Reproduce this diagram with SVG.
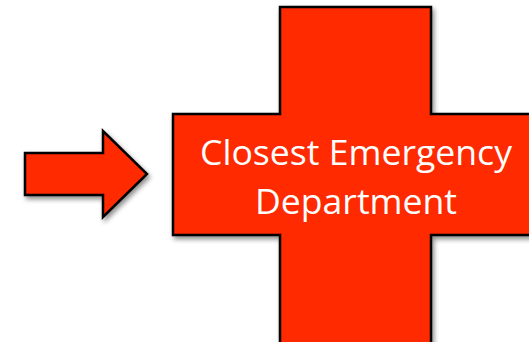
<svg xmlns="http://www.w3.org/2000/svg" width="529" height="342" viewBox="0 0 529 342">
<style>
.shape{fill:#FF2A00;stroke:#000;stroke-width:2.5;stroke-linejoin:miter}
.lbl{font-family:"Open Sans","Liberation Sans",sans-serif;font-size:34px;fill:#fff;text-anchor:middle}
</style>
<defs>
<filter id="sh" x="-10%" y="-10%" width="130%" height="130%">
<feGaussianBlur in="SourceAlpha" stdDeviation="2.5"/>
<feOffset dx="2" dy="3" result="b"/>
<feComponentTransfer><feFuncA type="linear" slope="0.45"/></feComponentTransfer>
<feMerge><feMergeNode/><feMergeNode in="SourceGraphic"/></feMerge>
</filter>
</defs>
<rect width="529" height="342" fill="#fff"/>
<g id="arrow">
<polygon class="shape" filter="url(#sh)" points="25,153 103,153 103,131 147,174 103,217 103,195 25,195"/>
</g>
<g id="cross">
<polygon class="shape" filter="url(#sh)" points="280,7 431,7 431,114 540,114 540,235 431,235 431,350 280,350 280,235 173,235 173,114 280,114"/>
<text class="lbl" x="356" y="165" textLength="312" lengthAdjust="spacingAndGlyphs">Closest Emergency</text>
<text class="lbl" x="356" y="214" textLength="202" lengthAdjust="spacingAndGlyphs">Department</text>
</g>
</svg>
